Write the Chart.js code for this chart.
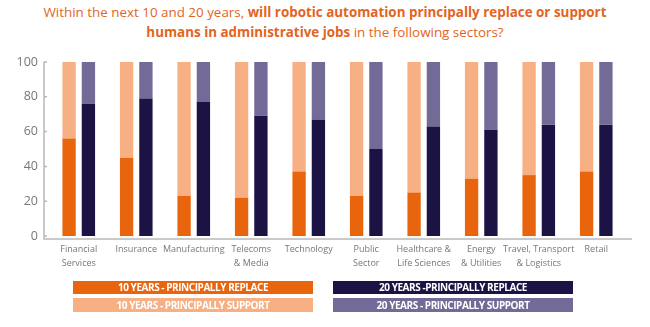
<!DOCTYPE html>
<html>
<head>
<meta charset="utf-8">
<script src="https://cdn.jsdelivr.net/npm/chart.js@4.4.1/dist/chart.umd.min.js"></script>
<style>
  body { margin: 0; width: 650px; height: 327px; background: #fff; position: relative; overflow: hidden; font-family: "Open Sans", sans-serif; }
  #title { position: absolute; top: 3px; left: 0; width: 650px; text-align: center; color: #e3641e; font-size: 13.4px; line-height: 19.5px; }
  #title b { font-weight: 700; }
  #chart { position: absolute; left: 0; top: 0; }
  .leg { position: absolute; width: 240px; color: #fff; font: bold 10px "Liberation Sans Narrow", "Open Sans", sans-serif; letter-spacing: -0.45px; text-align: center; }
</style>
</head>
<body>
<div id="title">Within the next 10 and 20 years, <b>will robotic automation principally replace or support</b><br><b>humans in administrative jobs</b> in the following sectors?</div>
<canvas id="chart" width="650" height="327"></canvas>
<div id="legend"></div>
<script>
const sectors = [
  ["Financial", "Services"], "Insurance", "Manufacturing", ["Telecoms", "& Media"], "Technology",
  ["Public", "Sector"], ["Healthcare &", "Life Sciences"], ["Energy", "& Utilities"],
  ["Travel, Transport", "& Logistics"], "Retail"
];
const replace10 = [56, 45, 23, 22, 37, 23, 25, 33, 35, 37];
const support10 = [44, 55, 77, 78, 63, 77, 75, 67, 65, 63];
const replace20 = [76, 79, 77, 69, 67, 50, 63, 61, 64, 64];
const support20 = [24, 21, 23, 31, 33, 50, 37, 39, 36, 36];
const yTicks = [0, 20, 40, 60, 80, 100];

const seriesNames = [
  "10 YEARS - PRINCIPALLY REPLACE", "10 YEARS - PRINCIPALLY SUPPORT",
  "20 YEARS -PRINCIPALLY REPLACE", "20 YEARS - PRINCIPALLY SUPPORT"
];
const colors = ["#e8650d", "#f6b084", "#1d1244", "#736a97"];

// axis lines sit a little outside the plot area, like the original
const axisLines = {
  id: "axisLines",
  afterDraw(chart) {
    const { ctx, chartArea: a, scales: { y } } = chart;
    const x0 = a.left - 6, yb = a.bottom + 3;
    ctx.save();
    ctx.strokeStyle = "#b8b8b8";
    ctx.lineWidth = 1.5;
    ctx.beginPath();
    ctx.moveTo(x0, y.getPixelForValue(100));
    ctx.lineTo(x0, yb);
    ctx.lineTo(a.right + 7, yb);
    yTicks.forEach(t => {
      const p = y.getPixelForValue(t);
      ctx.moveTo(x0, p);
      ctx.lineTo(x0 + 3, p);
    });
    ctx.stroke();
    ctx.restore();
  }
};

new Chart(document.getElementById("chart").getContext("2d"), {
  type: "bar",
  data: {
    labels: sectors,
    datasets: [
      { label: seriesNames[0], data: replace10, backgroundColor: colors[0], stack: "10" },
      { label: seriesNames[1], data: support10, backgroundColor: colors[1], stack: "10" },
      { label: seriesNames[2], data: replace20, backgroundColor: colors[2], stack: "20" },
      { label: seriesNames[3], data: support20, backgroundColor: colors[3], stack: "20" }
    ]
  },
  options: {
    responsive: false,
    animation: false,
    barPercentage: 0.69,
    categoryPercentage: 0.672,
    layout: { padding: { top: 62, right: 25, left: 0, bottom: 0 } },
    plugins: { legend: { display: false }, tooltip: { enabled: false } },
    scales: {
      x: {
        stacked: true,
        grid: { display: false, drawTicks: false },
        border: { display: false },
        ticks: { color: "#777", font: { family: "Open Sans", size: 9, lineHeight: 1.5 }, padding: 7, maxRotation: 0, autoSkip: false },
        afterFit(s) { s.height = 91; }
      },
      y: {
        stacked: true,
        min: 0,
        max: 100,
        grid: { display: false, drawTicks: false },
        border: { display: false },
        ticks: { stepSize: 20, color: "#777", font: { family: "Open Sans", size: 12.5 }, padding: 12 },
        afterFit(s) { s.width = 50; }
      }
    }
  },
  plugins: [axisLines]
});

// legend boxes under the chart
const legPos = [[73, 281, 13], [73, 298, 14], [333, 281, 13], [333, 298, 14]];
const legend = document.getElementById("legend");
seriesNames.forEach((name, i) => {
  const d = document.createElement("div");
  d.className = "leg";
  d.textContent = name;
  d.style.left = legPos[i][0] + "px";
  d.style.top = legPos[i][1] + "px";
  d.style.height = legPos[i][2] + "px";
  d.style.lineHeight = legPos[i][2] + "px";
  d.style.background = colors[i];
  legend.appendChild(d);
});
</script>
</body>
</html>
